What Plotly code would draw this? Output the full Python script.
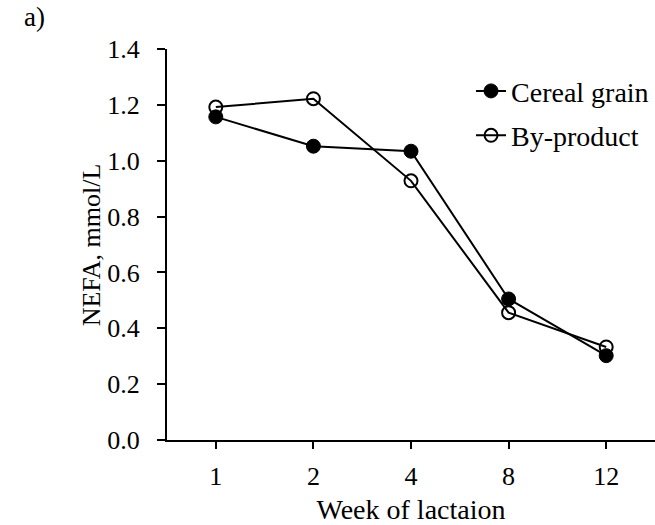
import plotly.graph_objects as go

weeks = ["1", "2", "4", "8", "12"]
cereal_grain = [1.157, 1.052, 1.034, 0.505, 0.302]
by_product = [1.192, 1.222, 0.928, 0.456, 0.333]
y_ticks = [0.0, 0.2, 0.4, 0.6, 0.8, 1.0, 1.2, 1.4]

FONT = "Liberation Serif, Times New Roman, serif"

fig = go.Figure()
fig.add_trace(go.Scatter(
    x=weeks, y=cereal_grain, name="Cereal grain", mode="lines+markers",
    legendgroup="a",
    line=dict(color="black", width=2),
    marker=dict(symbol="circle", size=14, color="black", line=dict(color="black", width=1)),
))
fig.add_trace(go.Scatter(
    x=weeks, y=by_product, name="By-product", mode="lines+markers",
    legendgroup="b",
    line=dict(color="black", width=2),
    marker=dict(symbol="circle-open", size=13, color="black", line=dict(color="black", width=2)),
))

fig.update_layout(
    width=655, height=525,
    margin=dict(l=167, r=0, t=49, b=85),
    paper_bgcolor="white", plot_bgcolor="white",
    font=dict(family=FONT, size=26, color="black"),
    showlegend=True,
    legend=dict(x=0.623, y=0.956, xanchor="left", yanchor="top",
                bgcolor="rgba(0,0,0,0)", font=dict(size=28),
                tracegroupgap=5, traceorder="grouped"),
    xaxis=dict(
        type="category", range=[-0.5, 4.5], automargin=False,
        showline=True, linecolor="black", linewidth=2,
        ticks="outside", ticklen=7, tickwidth=2, tickcolor="black",
        ticklabelstandoff=5, tickfont=dict(size=26),
        showgrid=False, zeroline=False,
        title=dict(text="Week of lactaion", standoff=23, font=dict(size=28)),
    ),
    yaxis=dict(
        range=[0, 1.4], tickvals=y_ticks, tickformat=".1f", automargin=False,
        showline=True, linecolor="black", linewidth=2,
        ticks="outside", ticklen=8, tickwidth=2, tickcolor="black",
        ticklabelstandoff=12, tickfont=dict(size=26),
        showgrid=False, zeroline=False,
    ),
    annotations=[
        dict(text="a)", xref="paper", yref="paper", x=-0.297, y=1.082,
             xanchor="left", yanchor="middle", showarrow=False,
             font=dict(size=27)),
        dict(text="NEFA, mmol/L", xref="paper", yref="paper", x=-0.154, y=0.5,
             xanchor="center", yanchor="middle", textangle=-90, showarrow=False,
             font=dict(size=26)),
    ],
)

fig.write_html("out.html")
